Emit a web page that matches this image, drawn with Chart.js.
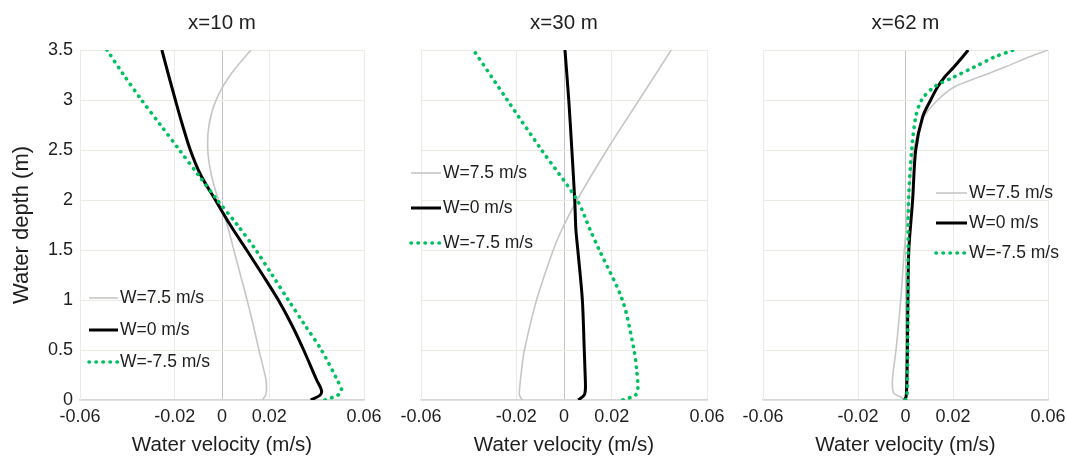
<!DOCTYPE html>
<html>
<head>
<meta charset="utf-8">
<script src="https://cdn.jsdelivr.net/npm/chart.js@4/dist/chart.umd.min.js"></script>
<style>
html,body{margin:0;padding:0;background:#fff;overflow:hidden;width:1066px;height:458px;position:relative;}
.p{position:absolute;top:0;height:458px;}
canvas{display:block;}
</style>
</head>
<body>
<div class="p" style="left:0px;width:395px"><canvas id="c1" width="395" height="458"></canvas></div>
<div class="p" style="left:385px;width:350px"><canvas id="c2" width="350" height="458"></canvas></div>
<div class="p" style="left:725px;width:350px"><canvas id="c3" width="350" height="458"></canvas></div>
<script>
// ---------- data ----------
const seriesLabels = ['W=7.5 m/s', 'W=0 m/s', 'W=-7.5 m/s'];
const panelTitles = ['x=10 m', 'x=30 m', 'x=62 m'];
const xTickValues = [-0.06, -0.02, 0, 0.02, 0.06];
const xTickLabels = ['-0.06', '-0.02', '0', '0.02', '0.06'];
const yTickValues = [0, 0.5, 1, 1.5, 2, 2.5, 3, 3.5];
const yTickLabels = ['0', '0.5', '1', '1.5', '2', '2.5', '3', '3.5'];
const xAxisTitle = 'Water velocity (m/s)';
const yAxisTitle = 'Water depth (m)';

// x = 10 m
const depth10 = [0, 0.05, 0.1, 0.2, 0.5, 0.75, 1.0, 1.25, 1.5, 1.75, 2.0, 2.25, 2.5, 2.75, 3.0, 3.25, 3.5];
const vel10_pos  = [0.017, 0.0185, 0.0188, 0.0186, 0.0156, 0.0132, 0.0106, 0.0078, 0.005, 0.0022, -0.0015, -0.0045, -0.006, -0.0055, -0.0025, 0.0035, 0.0122];
const vel10_zero = [0.0375, 0.0415, 0.042, 0.040, 0.0345, 0.0295, 0.0238, 0.0172, 0.0104, 0.0035, -0.0028, -0.009, -0.0134, -0.0167, -0.0197, -0.0226, -0.0254];
const vel10_neg  = [0.0435, 0.049, 0.0505, 0.0487, 0.042, 0.035, 0.028, 0.0212, 0.0143, 0.0065, -0.002, -0.010, -0.018, -0.026, -0.034, -0.0415, -0.0486];

// x = 30 m
const depth30 = [0, 0.05, 0.12, 0.3, 0.5, 1.0, 1.5, 1.7, 2.0, 2.5, 3.0, 3.5];
const vel30_pos  = [-0.0175, -0.0187, -0.0186, -0.0178, -0.0166, -0.0115, -0.0045, -0.001, 0.0055, 0.018, 0.0315, 0.045];
const vel30_zero = [0.006, 0.0085, 0.009, 0.0088, 0.0085, 0.0077, 0.0058, 0.005, 0.0045, 0.0033, 0.002, 0.0004];
const vel30_neg  = [0.0247, 0.030, 0.031, 0.0305, 0.0294, 0.0245, 0.0148, 0.011, 0.0055, -0.0094, -0.0238, -0.038];

// x = 62 m
const depth62 = [0, 0.03, 0.07, 0.2, 0.5, 1.0, 1.5, 2.0, 2.5, 2.83, 3.0, 3.13, 3.23, 3.33, 3.43, 3.5];
const vel62_pos  = [-0.0005, -0.002, -0.005, -0.0055, -0.004, -0.002, -0.0005, 0.0013, 0.0034, 0.0077, 0.0136, 0.0205, 0.031, 0.042, 0.052, 0.06];
const vel62_zero = [-0.0004, 0.0002, 0.0004, 0.0006, 0.0008, 0.001, 0.0014, 0.003, 0.0043, 0.0072, 0.0106, 0.0135, 0.0165, 0.0204, 0.024, 0.0264];
const vel62_neg  = [0, 0.0005, 0.0007, 0.0008, 0.0009, 0.001, 0.0011, 0.0013, 0.0026, 0.0043, 0.0068, 0.012, 0.0204, 0.029, 0.0375, 0.0455];

// ---------- styling ----------
const FONT = "'Liberation Sans', Arial, Helvetica, sans-serif";
const TEXT = '#1e1e1e';
const GRID = '#ebebe3';
const ZERO = '#c4c4c4';
const styles = [
  {borderColor: '#c6c6c6', borderWidth: 1.6, borderDash: [], borderCapStyle: 'butt', order: 3},
  {borderColor: '#000000', borderWidth: 3, borderDash: [], borderCapStyle: 'butt', order: 2},
  {borderColor: '#00c060', borderWidth: 3.6, borderDash: [0.4, 6.6], borderCapStyle: 'round', order: 1}
];

function pts(depths, vals) { return depths.map((d, i) => ({x: vals[i], y: d})); }
function labelFor(values, labels, v) {
  const i = values.findIndex(t => Math.abs(t - v) < 1e-9);
  return i >= 0 ? labels[i] : '';
}

const inlineLegend = {
  id: 'inlineLegend',
  afterDatasetsDraw(chart, args, o) {
    const {ctx, chartArea} = chart;
    ctx.save();
    ctx.font = o.fontSize + 'px ' + FONT;
    ctx.textBaseline = 'middle';
    ctx.textAlign = 'left';
    chart.data.datasets.forEach((ds, i) => {
      const y = chartArea.top + o.top + i * o.gap;
      const x0 = chartArea.left + o.left;
      ctx.beginPath();
      ctx.setLineDash(ds.borderDash || []);
      ctx.strokeStyle = ds.borderColor;
      ctx.lineWidth = ds.borderWidth;
      ctx.lineCap = ds.borderCapStyle || 'butt';
      ctx.moveTo(x0 + 1, y);
      ctx.lineTo(x0 + o.lineLen, y);
      ctx.stroke();
      ctx.setLineDash([]);
      ctx.fillStyle = TEXT;
      ctx.fillText(ds.label, x0 + o.lineLen + 2, y);
    });
    ctx.restore();
  }
};

function makePanel(id, title, depths, series, cfg) {
  const datasets = series.map((vals, i) => Object.assign({
    label: seriesLabels[i],
    data: pts(depths, vals),
    pointRadius: 0,
    pointHoverRadius: 0,
    tension: 0.3,
    fill: false
  }, styles[i]));
  return new Chart(document.getElementById(id), {
    type: 'line',
    data: {datasets},
    plugins: [inlineLegend],
    options: {
      responsive: false,
      animation: false,
      indexAxis: 'y',
      layout: {padding: {left: cfg.padLeft, right: cfg.padRight, top: 0, bottom: 0}},
      plugins: {
        legend: {display: false},
        tooltip: {enabled: false},
        title: {
          display: true, text: title, fullSize: false, color: TEXT,
          font: {family: FONT, size: 20.5, weight: 'normal'},
          padding: {top: 11, bottom: 14.4}
        },
        inlineLegend: cfg.legend
      },
      scales: {
        x: {
          type: 'linear', position: 'bottom', min: -0.06, max: 0.06,
          afterBuildTicks: s => { s.ticks = xTickValues.map(v => ({value: v})); },
          afterFit: s => { s.height = 58; },
          ticks: {
            autoSkip: false, maxRotation: 0, padding: 6, color: TEXT,
            font: {family: FONT, size: 18},
            callback: v => labelFor(xTickValues, xTickLabels, v)
          },
          grid: {
            drawTicks: false, lineWidth: 1,
            color: c => (c.tick && Math.abs(c.tick.value) < 1e-9) ? ZERO : GRID
          },
          border: {color: '#d6d6d6', width: 1.5},
          title: {display: true, text: xAxisTitle, color: TEXT,
            font: {family: FONT, size: 20.5}, padding: {top: 0, bottom: 0}}
        },
        y: {
          type: 'linear', position: 'left', min: 0, max: 3.5,
          afterBuildTicks: s => { s.ticks = yTickValues.map(v => ({value: v})); },
          afterFit: s => { s.width = cfg.yWidth; },
          ticks: {
            display: cfg.showY, padding: 7, color: TEXT,
            font: {family: FONT, size: 18},
            callback: v => labelFor(yTickValues, yTickLabels, v)
          },
          grid: {drawTicks: false, color: GRID, lineWidth: 1},
          border: {color: GRID},
          title: {display: cfg.showY, text: yAxisTitle, color: TEXT,
            font: {family: FONT, size: 22}, padding: {top: 9, bottom: 0}}
        }
      }
    }
  });
}

makePanel('c1', panelTitles[0], depth10, [vel10_pos, vel10_zero, vel10_neg], {
  padLeft: 0, padRight: 31, yWidth: 80, showY: true,
  legend: {left: 8, top: 248, gap: 32, lineLen: 30, fontSize: 17.5}
});
makePanel('c2', panelTitles[1], depth30, [vel30_pos, vel30_zero, vel30_neg], {
  padLeft: 36, padRight: 28, yWidth: 0, showY: false,
  legend: {left: -11, top: 123, gap: 35, lineLen: 31, fontSize: 17.5}
});
makePanel('c3', panelTitles[2], depth62, [vel62_pos, vel62_zero, vel62_neg], {
  padLeft: 38, padRight: 27, yWidth: 0, showY: false,
  legend: {left: 172, top: 143, gap: 30, lineLen: 32, fontSize: 17.5}
});
</script>
</body>
</html>
